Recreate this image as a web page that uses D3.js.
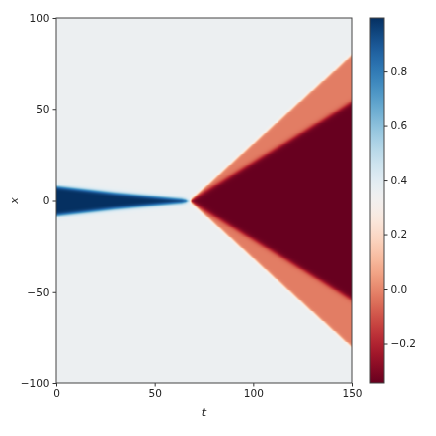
<!DOCTYPE html>
<html><head><meta charset="utf-8">
<script src="https://cdn.jsdelivr.net/npm/d3@7"></script>
<style>
body{margin:0;background:#fff;}
#wrap{position:relative;width:436px;height:436px;}
canvas,svg{position:absolute;left:0;top:0;}
text{font-family:"DejaVu Sans",sans-serif;}
</style></head><body>
<div id="wrap"><canvas id="cv" width="436" height="436"></canvas><svg id="sv" width="436" height="436"></svg></div>
<script>
// ---- data ----
const tTicks = [0, 50, 100, 150];
const xTicks = [-100, -50, 0, 50, 100];
const cbTicks = [-0.2, 0.0, 0.2, 0.4, 0.6, 0.8];
// blue pulse half-width (x units) at sampled times
const blueT = [0, 30, 64, 68];
const blueHalf = [8.0, 4.4, 1.1, 0];
// red wedge: outer (salmon) and inner (dark) half-widths
const redT = [68, 110, 150];
const redOuter = [0, 41, 80];
const redInner = [0, 27.5, 54];
// field levels
const levelNames = ["background", "pulse", "shoulder", "core"];
const levelVals = [0.355, 1.0, -0.02, -0.345];
const vmin = -0.345, vmax = 0.995;

const m = {l: 56, r: 352, t: 18, b: 383};
const sx = d3.scaleLinear().domain([0, 150]).range([m.l, m.r]);
const sy = d3.scaleLinear().domain([-100, 100]).range([m.b, m.t]);
const col = d3.scaleSequential(d3.interpolateRdBu).domain([vmin, vmax]).clamp(true);

const blueW = d3.scaleLinear().domain(blueT).range(blueHalf).clamp(true);
const outW = d3.scaleLinear().domain(redT).range(redOuter).clamp(true);
const inW = d3.scaleLinear().domain(redT).range(redInner).clamp(true);
const sig = z => 1 / (1 + Math.exp(-z));

function field(t, x) {
  const [bg, pulse, shoulder, core] = levelVals;
  let v = bg;
  const ax = Math.abs(x);
  if (t <= blueT[blueT.length - 1]) {
    const hw = blueW(t);
    const s = sig((hw - ax) / 0.6) * Math.min(1, hw / 0.8 + 0.3);
    v = bg + (pulse - bg) * s;
  }
  if (t >= redT[0]) {
    const o = outW(t), i = inW(t);
    const so = sig((o - ax) / 0.5);
    const si = sig((i - ax) / 0.8);
    const ramp = Math.min(1, (t - redT[0]) / 1.5 + 0.2);
    v = v + ((shoulder - v) * so + (core - shoulder) * si) * ramp;
  }
  return v;
}

const cv = document.getElementById("cv");
const ctx = cv.getContext("2d");
const nt = 300, nx = 400;
const dt = 150 / nt, dx = 200 / nx;
for (let a = 0; a < nt; a++) {
  const t0 = a * dt, tc = t0 + dt / 2;
  const px0 = Math.floor(sx(t0)), px1 = Math.ceil(sx(t0 + dt));
  for (let b = 0; b < nx; b++) {
    const x0 = -100 + b * dx, xc = x0 + dx / 2;
    const py0 = Math.floor(sy(x0 + dx)), py1 = Math.ceil(sy(x0));
    ctx.fillStyle = col(field(tc, xc));
    ctx.fillRect(px0, py0, px1 - px0, py1 - py0);
  }
}

const svg = d3.select("#sv");
const gx = svg.append("g").attr("transform", `translate(0,${m.b})`)
  .call(d3.axisBottom(sx).tickValues(tTicks).tickSize(3.5).tickPadding(3).tickFormat(d3.format("d")));
const gy = svg.append("g").attr("transform", `translate(${m.l},0)`)
  .call(d3.axisLeft(sy).tickValues(xTicks).tickSize(3.5).tickPadding(3).tickFormat(d => d < 0 ? "\u2212" + Math.abs(d) : d));
[gx, gy].forEach(g => {
  g.select(".domain").remove();
  g.selectAll("line").attr("stroke", "#333");
  g.selectAll("text").attr("font-size", 10.5).attr("fill", "#222").attr("font-family", "DejaVu Sans");
});
svg.append("rect").attr("x", m.l).attr("y", m.t).attr("width", m.r - m.l).attr("height", m.b - m.t)
  .attr("fill", "none").attr("stroke", "#444").attr("stroke-width", 1);
svg.append("text").attr("x", (m.l + m.r) / 2).attr("y", 416).attr("text-anchor", "middle")
  .attr("font-size", 11).attr("font-style", "italic").attr("fill", "#222").text("t");
svg.append("text").attr("transform", `translate(18,${(m.t + m.b) / 2}) rotate(-90)`).attr("text-anchor", "middle")
  .attr("font-size", 11).attr("font-style", "italic").attr("fill", "#222").text("x");

// colorbar
const cb = {l: 370, r: 384};
const cy = d3.scaleLinear().domain([vmin, vmax]).range([m.b, m.t]);
const grad = svg.append("defs").append("linearGradient").attr("id", "cbg")
  .attr("x1", 0).attr("y1", 1).attr("x2", 0).attr("y2", 0);
d3.range(0, 1.0001, 0.02).forEach(f => {
  grad.append("stop").attr("offset", f).attr("stop-color", col(vmin + f * (vmax - vmin)));
});
svg.append("rect").attr("x", cb.l).attr("y", m.t).attr("width", cb.r - cb.l).attr("height", m.b - m.t)
  .attr("fill", "url(#cbg)").attr("stroke", "#444").attr("stroke-width", 1);
const gc = svg.append("g").attr("transform", `translate(${cb.r},0)`)
  .call(d3.axisRight(cy).tickValues(cbTicks).tickSize(3.5).tickPadding(3)
    .tickFormat(d => (d < 0 ? "\u2212" : "") + Math.abs(d).toFixed(1)));
gc.select(".domain").remove();
gc.selectAll("line").attr("stroke", "#333");
gc.selectAll("text").attr("font-size", 10.5).attr("fill", "#222");
</script></body></html>
